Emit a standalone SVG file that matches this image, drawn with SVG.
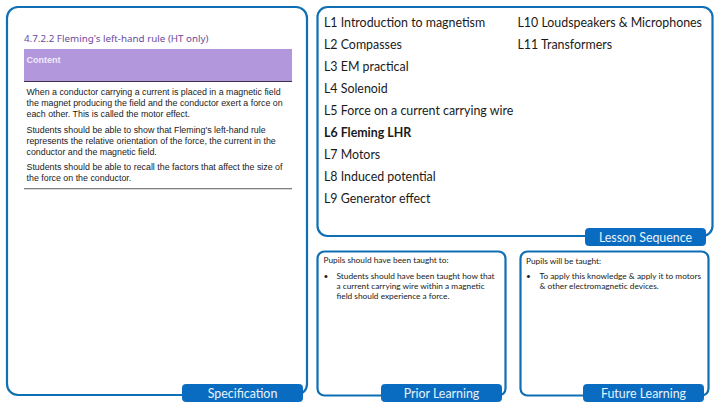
<svg xmlns="http://www.w3.org/2000/svg" width="720" height="405" viewBox="0 0 720 405">
<style>
.box{fill:#fff;stroke:#0f6fb5;stroke-width:2.2}
.tab{fill:#0a6cc0;stroke:#0a6cc0;stroke-width:1}
.tabt{font:12.4px Lato,"Liberation Sans",sans-serif;fill:#e8f2fb;text-anchor:middle}
.ls{font:12.4px Lato,"Liberation Sans",sans-serif;fill:#1a1a1a}
.b{font-weight:700}
.sm{font:8.3px Lato,"Liberation Sans",sans-serif;fill:#1a1a1a}
.sp{font:8.85px "Liberation Sans",Arial,sans-serif;fill:#222}
</style>
<rect width="720" height="405" fill="#fff"/>
<g id="specification">
<rect class="box" x="7" y="7" width="300" height="388" rx="11"/>
<text x="24" y="42" font-family="'Noto Sans',Lato,sans-serif" font-size="9.8" fill="#6b4a9e">4.7.2.2 Fleming's left-hand rule (HT only)</text>
<rect x="24" y="49" width="268" height="32" fill="#b297dc"/>
<rect x="24" y="81" width="268" height="1" fill="#3b3050"/>
<text x="26.500" y="63" font-family="'Liberation Sans',Arial,sans-serif" font-size="9" font-weight="700" fill="#f1ebf9">Content</text>
<text class="sp" x="26.500" y="95">When a conductor carrying a current is placed in a magnetic field</text>
<text class="sp" x="26.500" y="106">the magnet producing the field and the conductor exert a force on</text>
<text class="sp" x="26.500" y="117">each other. This is called the motor effect.</text>
<text class="sp" x="26.500" y="133">Students should be able to show that Fleming's left-hand rule</text>
<text class="sp" x="26.500" y="144">represents the relative orientation of the force, the current in the</text>
<text class="sp" x="26.500" y="155">conductor and the magnetic field.</text>
<text class="sp" x="26.500" y="170">Students should be able to recall the factors that affect the size of</text>
<text class="sp" x="26.500" y="181">the force on the conductor.</text>
<rect x="24" y="188" width="268" height="1.300" fill="#808080"/>
<rect class="tab" x="182.500" y="384.500" width="120" height="17" rx="3"/>
<text class="tabt" x="242.500" y="398">Specification</text>
</g>
<g id="lesson-sequence">
<rect class="box" x="317.500" y="7" width="395" height="229" rx="10"/>
<text class="ls" x="324" y="27">L1 Introduction to magnetism</text>
<text class="ls" x="324" y="49">L2 Compasses</text>
<text class="ls" x="324" y="71">L3 EM practical</text>
<text class="ls" x="324" y="93">L4 Solenoid</text>
<text class="ls" x="324" y="115">L5 Force on a current carrying wire</text>
<text class="ls b" x="324" y="137">L6 Fleming LHR</text>
<text class="ls" x="324" y="159">L7 Motors</text>
<text class="ls" x="324" y="181">L8 Induced potential</text>
<text class="ls" x="324" y="203">L9 Generator effect</text>
<text class="ls" x="517.500" y="27">L10 Loudspeakers &amp; Microphones</text>
<text class="ls" x="517.500" y="49">L11 Transformers</text>
<rect class="tab" x="585.500" y="228.500" width="120" height="17" rx="3"/>
<text class="tabt" x="645.500" y="242">Lesson Sequence</text>
</g>
<g id="prior-learning">
<rect class="box" x="317.500" y="251.500" width="188" height="144" rx="7"/>
<text class="sm" x="323.500" y="263">Pupils should have been taught to:</text>
<text class="sm" x="323.500" y="279">•</text>
<text class="sm" x="336.500" y="279">Students should have been taught how that</text>
<text class="sm" x="336.500" y="289">a current carrying wire within a magnetic</text>
<text class="sm" x="336.500" y="299">field should experience a force.</text>
<rect class="tab" x="381.500" y="384.500" width="120" height="17" rx="3"/>
<text class="tabt" x="441.500" y="398">Prior Learning</text>
</g>
<g id="future-learning">
<rect class="box" x="520.500" y="251.500" width="188" height="144" rx="7"/>
<text class="sm" x="526" y="264">Pupils will be taught:</text>
<text class="sm" x="526" y="279">•</text>
<text class="sm" x="539.500" y="279">To apply this knowledge &amp; apply it to motors</text>
<text class="sm" x="539.500" y="289">&amp; other electromagnetic devices.</text>
<rect class="tab" x="583.500" y="384.500" width="120" height="17" rx="3"/>
<text class="tabt" x="643.500" y="398">Future Learning</text>
</g>
<g id="connectors"/>
</svg>
